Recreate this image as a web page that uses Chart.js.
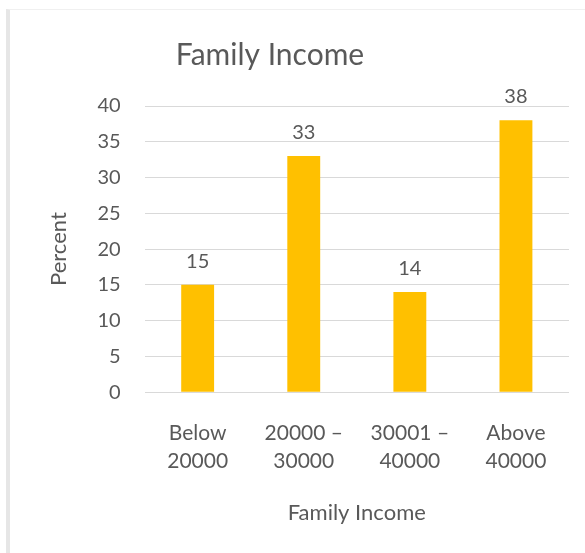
<!DOCTYPE html>
<html>
<head>
<meta charset="utf-8">
<title>Family Income</title>
<script src="https://cdn.jsdelivr.net/npm/chart.js@4/dist/chart.umd.min.js"></script>
<style>
  html, body { margin: 0; padding: 0; background: #fff; }
  #wrap { position: relative; width: 585px; height: 553px; }
  #frame {
    position: absolute; left: 6px; top: 9px; right: 0; bottom: 0;
    border-left: 4px solid #e6e6e6; border-top: 1px solid #f0f0f0;
  }
  canvas { position: absolute; left: 0; top: 0; }
</style>
</head>
<body>
<div id="wrap">
  <div id="frame"></div>
  <canvas id="incomeChart" width="585" height="553"></canvas>
</div>
<script>
/* ---- data ---- */
const chartTitle = "Family Income";
const incomeGroups = [["Below", "20000"], ["20000 –", "30000"], ["30001 –", "40000"], ["Above", "40000"]];
const percents = [15, 33, 14, 38];
const yTicks = { min: 0, max: 40, step: 5 };

const textGray = "#595959";
const fontFamily = "Lato, 'Open Sans', sans-serif";

/* title sits left of the plot centre, like the original sheet */
const headline = {
  id: "headline",
  afterDraw(chart) {
    const c = chart.ctx;
    c.save();
    c.font = `30px ${fontFamily}`;
    c.fillStyle = textGray;
    c.textAlign = "center";
    c.textBaseline = "alphabetic";
    c.fillText(chartTitle, 270, 65);
    c.restore();
  }
};

/* value above every bar */
const barValues = {
  id: "barValues",
  afterDatasetsDraw(chart) {
    const c = chart.ctx;
    const meta = chart.getDatasetMeta(0);
    c.save();
    c.font = `20px ${fontFamily}`;
    c.fillStyle = textGray;
    c.textAlign = "center";
    c.textBaseline = "alphabetic";
    meta.data.forEach((bar, i) => {
      c.fillText(String(percents[i]), bar.x, bar.y - 17);
    });
    c.restore();
  }
};

const ctx = document.getElementById("incomeChart").getContext("2d");
new Chart(ctx, {
  type: "bar",
  data: {
    labels: incomeGroups,
    datasets: [{
      label: "Percent",
      data: percents,
      backgroundColor: "#ffc000",
      borderWidth: 0,
      barPercentage: 1,
      categoryPercentage: 0.31
    }]
  },
  options: {
    responsive: false,
    animation: false,
    layout: { padding: { left: 20, right: 16, top: 106, bottom: 29 } },
    plugins: {
      legend: { display: false },
      title: { display: false },
      tooltip: { enabled: false }
    },
    scales: {
      x: {
        grid: { display: false, drawTicks: false },
        border: { display: false },
        ticks: {
          color: textGray,
          font: { family: fontFamily, size: 21, lineHeight: 1.33 },
          padding: 27,
          maxRotation: 0
        },
        title: {
          display: true,
          text: "Family Income",
          color: textGray,
          font: { family: fontFamily, size: 22, lineHeight: 1.0 },
          padding: { top: 0, bottom: 0 }
        }
      },
      y: {
        min: yTicks.min,
        max: yTicks.max,
        grid: { color: "#d9d9d9", lineWidth: 1, drawTicks: false },
        border: { display: false },
        ticks: {
          stepSize: yTicks.step,
          color: textGray,
          font: { family: fontFamily, size: 20 },
          padding: 24
        },
        title: {
          display: true,
          text: "Percent",
          color: textGray,
          font: { family: fontFamily, size: 22, lineHeight: 1.2 },
          padding: { top: 26, bottom: 1 }
        }
      }
    }
  },
  plugins: [headline, barValues]
});
</script>
</body>
</html>
